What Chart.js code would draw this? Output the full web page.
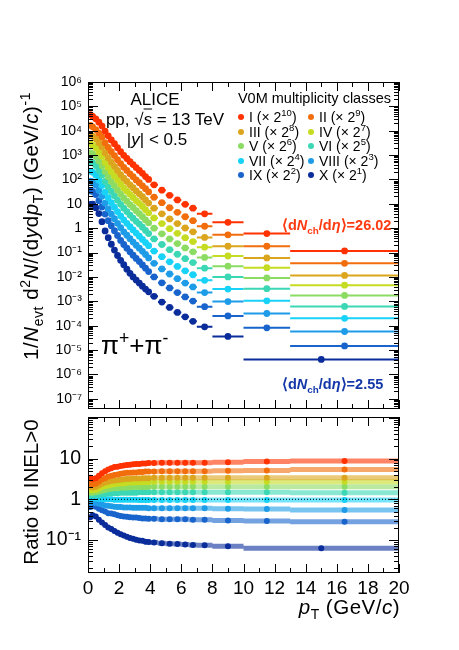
<!DOCTYPE html>
<html>
<head>
<meta charset="utf-8">
<script src="https://cdn.jsdelivr.net/npm/chart.js@4.4.1/dist/chart.umd.min.js"></script>
<style>
body { margin: 0; background: #fff; }
#wrap { position: relative; width: 459px; height: 650px; overflow: hidden;
        font-family: "Liberation Sans", Arial, sans-serif; color: #000; }
canvas { position: absolute; left: 0; }
#topChart { top: 0; }
#ratioChart { top: 413px; }
.lbl { position: absolute; white-space: nowrap; line-height: 1; }
.lbl sub, .lbl sup { font-size: 68%; line-height: 0; }
.c { transform: translate(-50%, -50%); }
.l { transform: translate(0, -50%); }
.r { transform: translate(-100%, -50%); }
.rot { transform: translate(-50%, -50%) rotate(-90deg); }
.leg { position: absolute; white-space: nowrap; font-size: 14px; line-height: 1; transform: translate(0, -50%); }
.leg i.dot { display: inline-block; width: 6px; height: 6px; border-radius: 50%; margin-right: 5px; vertical-align: 2px; }
.leg sup { font-size: 68%; line-height: 0; }
.ov { text-decoration: overline; }
</style>
</head>
<body>
<div id="wrap">
  <canvas id="topChart" width="459" height="413"></canvas>
  <canvas id="ratioChart" width="459" height="237"></canvas>

  <div class="lbl c" style="left:155px; top:99px; font-size:17px;">ALICE</div>
  <div class="lbl c" style="left:165px; top:119px; font-size:17px;">pp, &radic;<span class="ov"><i>s</i></span> = 13 TeV</div>
  <div class="lbl c" style="left:157px; top:139px; font-size:17px;">|<i>y</i>| &lt; 0.5</div>
  <div class="lbl r" style="left:391px; top:98px; font-size:14.5px;">V0M multiplicity classes</div>
  <div id="legend"></div>

  <div class="lbl l" style="left:282px; top:225px; font-size:14.5px; font-weight:bold; color:#ff3a10;">&#10216;d<i>N</i><sub>ch</sub>/d<i>&eta;</i>&#10217;=26.02</div>
  <div class="lbl l" style="left:282px; top:384px; font-size:14.5px; font-weight:bold; color:#1438a8;">&#10216;d<i>N</i><sub>ch</sub>/d<i>&eta;</i>&#10217;=2.55</div>
  <div class="lbl l" style="left:101px; top:345px; font-size:26px;">&pi;<sup>+</sup>+&pi;<sup>-</sup></div>

  <div class="lbl rot" style="left:31px; top:226px; font-size:20.5px; letter-spacing:0.6px;">1/<i>N</i><sub>evt</sub> d<sup>2</sup><i>N</i>/(d<i>y</i>d<i>p</i><sub>T</sub>) (GeV/<i>c</i>)<sup>-1</sup></div>
  <div class="lbl rot" style="left:31px; top:492px; font-size:20.5px;">Ratio to INEL&gt;0</div>
  <div class="lbl r" style="left:400px; top:607px; font-size:20.5px; letter-spacing:0.5px;"><i>p</i><sub>T</sub> (GeV/<i>c</i>)</div>
</div>

<script>
// pT bin edges (GeV/c); class X has the last two bins merged
const ptEdges = [0.1, 0.2, 0.4, 0.6, 0.8, 1.0, 1.2, 1.4, 1.6, 1.8, 2.0, 2.2, 2.4, 2.6, 2.8, 3.0,
                 3.2, 3.4, 3.6, 3.8, 4.0, 4.5, 5.0, 5.5, 6.0, 6.5, 7.0, 8, 10, 13, 20];
const ptEdgesX = [0.1, 0.2, 0.4, 0.6, 0.8, 1.0, 1.2, 1.4, 1.6, 1.8, 2.0, 2.2, 2.4, 2.6, 2.8, 3.0,
                  3.2, 3.4, 3.6, 3.8, 4.0, 4.5, 5.0, 5.5, 6.0, 6.5, 7.0, 8, 10, 20];

const classNames = ["I", "II", "III", "IV", "V", "VI", "VII", "VIII", "IX", "X"];
const scaleExps = [10, 9, 8, 7, 6, 5, 4, 3, 2, 1];
const classColors = ["#ff3200", "#f26e0c", "#dca51e", "#c5dc23", "#8cdc64",
                     "#3cd7b4", "#18d2f8", "#1e9ce8", "#1864cc", "#0a2d9b"];

// scaled spectra 1/Nevt d2N/(dy dpT)
const specI = [4.57e4, 3.89e4, 3.09e4, 2.24e4, 1.55e4, 9.55e3, 6.17e3, 4.17e3, 2.95e3, 2.00e3,
               1.38e3, 977, 724, 537, 407, 309, 234, 178, 132, 100,
               60.3, 36.3, 22.4, 14.5, 9.55, 6.61, 3.89, 1.74, 0.603, 0.117];
const specII = [1.66e4, 1.45e4, 1.12e4, 7.94e3, 5.50e3, 3.24e3, 2.09e3, 1.38e3, 955, 646,
                447, 316, 234, 170, 129, 95.5, 74.1, 55.0, 41.7, 30.9,
                18.6, 11.2, 6.92, 4.47, 2.95, 2.04, 1.20, 0.537, 0.182, 0.0363];
const specIII = [6.76e3, 6.03e3, 4.68e3, 3.24e3, 2.14e3, 1.26e3, 776, 513, 347, 234,
                 158, 112, 83.2, 60.3, 45.7, 33.9, 25.7, 19.5, 14.5, 10.7,
                 6.61, 3.89, 2.40, 1.55, 1.02, 0.708, 0.417, 0.182, 0.0603, 0.0115];
const specIV = [2.82e3, 2.57e3, 2.00e3, 1.35e3, 891, 513, 316, 209, 141, 95.5,
                64.6, 44.7, 33.1, 24.5, 18.2, 13.5, 10.5, 7.76, 5.75, 4.27,
                2.63, 1.55, 0.955, 0.617, 0.407, 0.282, 0.166, 0.0724, 0.0240, 0.00457];
const specV = [1.23e3, 1.12e3, 871, 575, 363, 209, 129, 83.2, 56.2, 37.2,
               25.1, 17.4, 12.9, 9.33, 7.08, 5.25, 3.98, 2.95, 2.19, 1.66,
               1.00, 0.589, 0.363, 0.234, 0.155, 0.107, 0.0631, 0.0275, 0.00912, 0.00174];
const specVI = [537, 490, 372, 240, 151, 83.2, 50.1, 32.4, 21.4, 14.1,
                9.55, 6.61, 4.79, 3.47, 2.57, 1.91, 1.48, 1.10, 0.813, 0.603,
                0.363, 0.214, 0.132, 0.0851, 0.0562, 0.0389, 0.0229, 0.0100, 0.00331, 6.17e-4];
const specVII = [219, 200, 151, 93.3, 56.2, 30.2, 17.8, 11.2, 7.24, 4.79,
                 3.16, 2.19, 1.58, 1.15, 0.851, 0.631, 0.468, 0.347, 0.257, 0.191,
                 0.115, 0.0676, 0.0417, 0.0269, 0.0178, 0.0123, 0.00724, 0.00316, 0.00105, 2.0e-4];
const specVIII = [85.1, 79.4, 58.9, 35.5, 20.4, 10.7, 6.17, 3.80, 2.45, 1.58,
                  1.05, 0.708, 0.513, 0.372, 0.269, 0.200, 0.151, 0.112, 0.0832, 0.0603,
                  0.0363, 0.0214, 0.0132, 0.00851, 0.00562, 0.00389, 0.00229, 9.77e-4, 3.16e-4, 5.75e-5];
const specIX = [33.9, 32.4, 24.0, 13.5, 7.41, 3.80, 2.04, 1.26, 0.794, 0.501,
                0.316, 0.214, 0.151, 0.107, 0.0776, 0.0575, 0.0427, 0.0309, 0.0229, 0.0166,
                0.0100, 0.00575, 0.00355, 0.00229, 0.00151, 0.00102, 6.03e-4, 2.51e-4, 8.13e-5, 1.48e-5];
const specX = [9.55, 9.77, 6.92, 3.98, 1.86, 0.776, 0.407, 0.219, 0.126, 0.0759,
               0.0479, 0.0316, 0.0209, 0.0141, 0.0100, 0.00741, 0.00562, 0.00417, 0.00316, 0.00245,
               0.0016, 9.3e-4, 5.6e-4, 3.5e-4, 2.3e-4, 1.5e-4, 9.0e-5, 3.6e-5, 4.1e-6];

// ratio to INEL>0
const ratioI = [3.39, 3.16, 3.31, 3.80, 4.37, 4.90, 5.37, 5.75, 6.17, 6.31,
                6.61, 6.76, 6.92, 7.08, 7.24, 7.41, 7.41, 7.59, 7.59, 7.76,
                7.76, 7.94, 7.94, 7.94, 7.94, 7.94, 7.94, 8.13, 8.51, 8.71];
const ratioII = [2.45, 2.34, 2.40, 2.69, 3.09, 3.31, 3.63, 3.80, 3.98, 4.07,
                 4.27, 4.37, 4.47, 4.47, 4.57, 4.57, 4.68, 4.68, 4.79, 4.79,
                 4.79, 4.90, 4.90, 4.90, 4.90, 4.90, 4.90, 5.01, 5.13, 5.37];
const ratioIII = [2.00, 1.95, 2.00, 2.19, 2.40, 2.57, 2.69, 2.82, 2.88, 2.95,
                  3.02, 3.09, 3.16, 3.16, 3.24, 3.24, 3.24, 3.31, 3.31, 3.31,
                  3.39, 3.39, 3.39, 3.39, 3.39, 3.39, 3.39, 3.39, 3.39, 3.39];
const ratioIV = [1.66, 1.66, 1.70, 1.82, 2.00, 2.09, 2.19, 2.29, 2.34, 2.40,
                 2.45, 2.45, 2.51, 2.57, 2.57, 2.57, 2.63, 2.63, 2.63, 2.63,
                 2.69, 2.69, 2.69, 2.69, 2.69, 2.69, 2.69, 2.69, 2.69, 2.69];
const ratioV = [1.45, 1.45, 1.48, 1.55, 1.62, 1.70, 1.78, 1.82, 1.86, 1.86,
                1.91, 1.91, 1.95, 1.95, 2.00, 2.00, 2.00, 2.00, 2.00, 2.04,
                2.04, 2.04, 2.04, 2.04, 2.04, 2.04, 2.04, 2.04, 2.04, 2.04];
const ratioVI = [1.26, 1.26, 1.26, 1.29, 1.35, 1.35, 1.38, 1.41, 1.41, 1.41,
                 1.45, 1.45, 1.45, 1.45, 1.45, 1.45, 1.48, 1.48, 1.48, 1.48,
                 1.48, 1.48, 1.48, 1.48, 1.48, 1.48, 1.48, 1.48, 1.48, 1.45];
const ratioVII = [1.05, 1.05, 1.05, 1.02, 1.02, 1.00, 1.00, 1.00, 0.98, 0.98,
                  0.98, 0.98, 0.98, 0.98, 0.98, 0.98, 0.955, 0.955, 0.955, 0.955,
                  0.955, 0.955, 0.955, 0.955, 0.955, 0.955, 0.955, 0.955, 0.955, 0.955];
const ratioVIII = [0.813, 0.832, 0.813, 0.776, 0.741, 0.708, 0.692, 0.676, 0.661, 0.646,
                   0.646, 0.631, 0.631, 0.631, 0.617, 0.617, 0.617, 0.617, 0.617, 0.603,
                   0.603, 0.603, 0.603, 0.603, 0.603, 0.603, 0.603, 0.589, 0.575, 0.550];
const ratioIX = [0.646, 0.676, 0.661, 0.589, 0.537, 0.501, 0.457, 0.447, 0.427, 0.407,
                 0.389, 0.380, 0.372, 0.363, 0.355, 0.355, 0.347, 0.339, 0.339, 0.331,
                 0.331, 0.324, 0.324, 0.324, 0.324, 0.316, 0.316, 0.302, 0.295, 0.282];
const ratioX = [0.363, 0.407, 0.380, 0.316, 0.269, 0.234, 0.204, 0.186, 0.166, 0.151,
                0.138, 0.129, 0.120, 0.112, 0.107, 0.102, 0.0977, 0.0955, 0.0912, 0.0891,
                0.0871, 0.0832, 0.0813, 0.0794, 0.0776, 0.0759, 0.0741, 0.0708, 0.063];

const spectra = [specI, specII, specIII, specIV, specV, specVI, specVII, specVIII, specIX, specX];
const ratios = [ratioI, ratioII, ratioIII, ratioIV, ratioV, ratioVI, ratioVII, ratioVIII, ratioIX, ratioX];

// axis tick labels (ascending)
const topTickValues = [1e-7, 1e-6, 1e-5, 1e-4, 1e-3, 1e-2, 1e-1, 1, 10, 1e2, 1e3, 1e4, 1e5, 1e6];
const topTickLabels = ["10⁻⁷", "10⁻⁶", "10⁻⁵", "10⁻⁴", "10⁻³", "10⁻²", "10⁻¹",
                       "1", "10", "10²", "10³", "10⁴", "10⁵", "10⁶"];
const ratioTickValues = [0.1, 1, 10];
const ratioTickLabels = ["10⁻¹", "1", "10"];
const unityLine = [1, 1];

const FONT = "'Liberation Sans', Arial, sans-serif";

function binCenters(edges) {
    return edges.slice(0, -1).map((e, i) => (e + edges[i + 1]) / 2);
}

// horizontal bin-width segments, broken by null points
function binSegments(edges, values) {
    const out = [];
    values.forEach((v, i) => {
        out.push({ x: edges[i], y: v }, { x: edges[i + 1], y: v }, { x: edges[i + 1], y: null });
    });
    return out;
}

function withAlpha(hex, a) {
    const n = parseInt(hex.slice(1), 16);
    return `rgba(${n >> 16},${(n >> 8) & 255},${n & 255},${a})`;
}

// ROOT style frame with ticks on all four sides, pointing inwards
const rootFrame = {
    id: "rootFrame",
    afterDatasetsDraw(chart) {
        const { ctx, chartArea: a } = chart;
        const xs = chart.scales.x, ys = chart.scales.y;
        ctx.save();
        ctx.strokeStyle = "#000";
        ctx.lineWidth = 1;
        ctx.beginPath();
        for (let v = xs.min; v <= xs.max + 1e-9; v += 1) {
            const px = Math.round(xs.getPixelForValue(v)) + 0.5;
            const len = v % 2 === 0 ? 9 : 5;
            ctx.moveTo(px, a.bottom); ctx.lineTo(px, a.bottom - len);
            ctx.moveTo(px, a.top); ctx.lineTo(px, a.top + len);
        }
        const lo = Math.floor(Math.log10(ys.min)), hi = Math.ceil(Math.log10(ys.max));
        for (let d = lo; d <= hi; d++) {
            for (let k = 1; k < 10; k++) {
                const v = k * Math.pow(10, d);
                if (v < ys.min || v > ys.max) continue;
                const py = Math.round(ys.getPixelForValue(v)) + 0.5;
                const len = k === 1 ? 10 : 5;
                ctx.moveTo(a.left, py); ctx.lineTo(a.left + len, py);
                ctx.moveTo(a.right, py); ctx.lineTo(a.right - len, py);
            }
        }
        ctx.stroke();
        ctx.strokeRect(a.left + 0.5, a.top + 0.5, a.width - 1, a.height - 1);
        ctx.restore();
    }
};

function buildDatasets(valueSets, segWidth, segAlpha, radius) {
    const sets = [];
    valueSets.forEach((vals, c) => {
        const edges = c === 9 ? ptEdgesX : ptEdges;
        const col = classColors[c];
        sets.push({
            data: binSegments(edges, vals),
            showLine: true,
            borderColor: withAlpha(col, segAlpha),
            borderWidth: segWidth,
            borderCapStyle: "butt",
            pointRadius: 0,
            spanGaps: false,
            order: 3
        });
        sets.push({
            data: binCenters(edges).map((x, i) => ({ x, y: vals[i] })),
            backgroundColor: col,
            borderColor: col,
            borderWidth: 0,
            pointRadius: radius,
            order: 2
        });
    });
    return sets;
}

// fixed axis sizes so both panels line up exactly
function lockWidth(w) {
    return (s) => { s.width = w; s.paddingTop = 0; s.paddingBottom = 0; };
}
function lockHeight(h) {
    return (s) => { s.height = h; s.paddingLeft = 0; s.paddingRight = 0; };
}

//TOP PANEL: SPECTRA
new Chart(document.getElementById("topChart"), {
    type: "scatter",
    data: { datasets: buildDatasets(spectra, 2, 1, 3.4) },
    options: {
        responsive: false,
        animation: false,
        layout: { padding: { left: 0, right: 60, top: 82, bottom: 1 } },
        plugins: { legend: { display: false }, tooltip: { enabled: false } },
        scales: {
            x: { type: "linear", min: 0, max: 20, display: false },
            y: {
                type: "logarithmic", min: 3.8e-8, max: 1e6,
                grid: { display: false, drawTicks: false },
                border: { display: false },
                afterBuildTicks: (s) => { s.ticks = topTickValues.map(v => ({ value: v })); },
                ticks: {
                    autoSkip: false,
                    padding: 6,
                    color: "#000",
                    font: { family: FONT, size: 14 },
                    callback: (v) => topTickLabels[topTickValues.indexOf(v)] || ""
                },
                afterFit: lockWidth(88)
            }
        }
    },
    plugins: [rootFrame]
});

//BOTTOM PANEL: RATIOS
const ratioSets = buildDatasets(ratios, 5, 0.6, 3.0);
ratioSets.push({
    data: [{ x: 0, y: unityLine[0] }, { x: 20, y: unityLine[1] }],
    showLine: true,
    borderColor: "#000",
    borderWidth: 1,
    borderDash: [1, 2],
    pointRadius: 0,
    order: 1
});

new Chart(document.getElementById("ratioChart"), {
    type: "scatter",
    data: { datasets: ratioSets },
    options: {
        responsive: false,
        animation: false,
        layout: { padding: { left: 0, right: 60, top: 1, bottom: 47 } },
        plugins: { legend: { display: false }, tooltip: { enabled: false } },
        scales: {
            x: {
                type: "linear", min: 0, max: 20,
                grid: { display: false, drawTicks: false },
                border: { display: false },
                ticks: { stepSize: 2, padding: 4, color: "#000", font: { family: FONT, size: 19 } },
                afterFit: lockHeight(30)
            },
            y: {
                type: "logarithmic", min: 0.0155, max: 105,
                grid: { display: false, drawTicks: false },
                border: { display: false },
                afterBuildTicks: (s) => { s.ticks = ratioTickValues.map(v => ({ value: v })); },
                ticks: {
                    autoSkip: false,
                    padding: 7,
                    color: "#000",
                    font: { family: FONT, size: 19.5 },
                    callback: (v) => ratioTickLabels[ratioTickValues.indexOf(v)] || ""
                },
                afterFit: lockWidth(88)
            }
        }
    },
    plugins: [rootFrame]
});

//LEGEND
const legendRowsY = [117, 131.5, 146, 160.5, 175];
const legendColsX = [238, 308];
const legend = document.getElementById("legend");
classNames.forEach((name, i) => {
    const el = document.createElement("div");
    el.className = "leg";
    el.style.left = legendColsX[i % 2] + "px";
    el.style.top = legendRowsY[Math.floor(i / 2)] + "px";
    el.innerHTML = `<i class="dot" style="background:${classColors[i]}"></i>${name} (&times; 2<sup>${scaleExps[i]}</sup>)`;
    legend.appendChild(el);
});
</script>
</body>
</html>
